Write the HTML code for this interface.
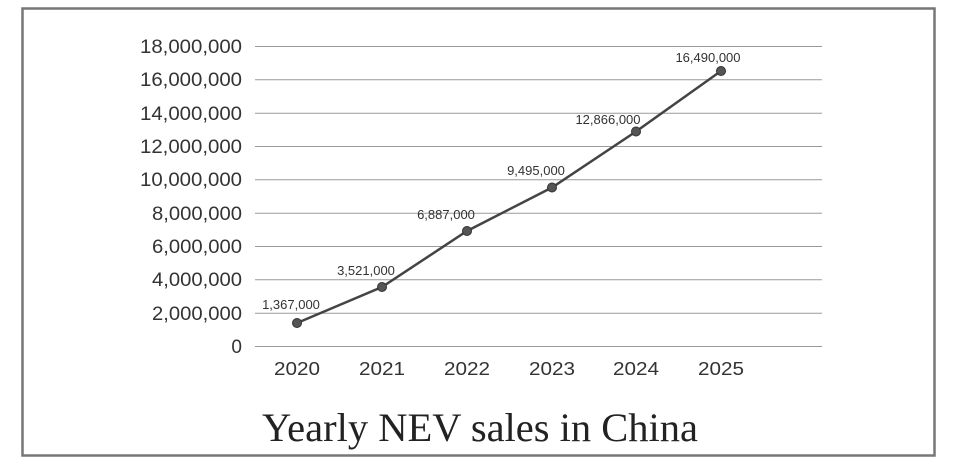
<!DOCTYPE html>
<html><head><style>
body{margin:0;background:#fff;}
svg{display:block;}
</style></head><body>
<svg width="961" height="464" xmlns="http://www.w3.org/2000/svg">
<rect x="0" y="0" width="961" height="464" fill="#fff"/>
<rect x="22.5" y="8.5" width="912" height="447" fill="none" stroke="#777" stroke-width="2.5"/>
<g stroke="#9a9a9a" stroke-width="1">
<line x1="255" x2="822" y1="46.5" y2="46.5"/>
<line x1="255" x2="822" y1="79.8" y2="79.8"/>
<line x1="255" x2="822" y1="113.2" y2="113.2"/>
<line x1="255" x2="822" y1="146.5" y2="146.5"/>
<line x1="255" x2="822" y1="179.8" y2="179.8"/>
<line x1="255" x2="822" y1="213.2" y2="213.2"/>
<line x1="255" x2="822" y1="246.5" y2="246.5"/>
<line x1="255" x2="822" y1="279.8" y2="279.8"/>
<line x1="255" x2="822" y1="313.2" y2="313.2"/>
<line x1="255" x2="822" y1="346.5" y2="346.5"/>
</g>
<g font-family="Liberation Sans, sans-serif" font-size="19" fill="#333" text-anchor="end">
<text x="242" y="53" textLength="102" lengthAdjust="spacingAndGlyphs">18,000,000</text>
<text x="242" y="86" textLength="102" lengthAdjust="spacingAndGlyphs">16,000,000</text>
<text x="242" y="120" textLength="102" lengthAdjust="spacingAndGlyphs">14,000,000</text>
<text x="242" y="153" textLength="102" lengthAdjust="spacingAndGlyphs">12,000,000</text>
<text x="242" y="186" textLength="102" lengthAdjust="spacingAndGlyphs">10,000,000</text>
<text x="242" y="220" textLength="90" lengthAdjust="spacingAndGlyphs">8,000,000</text>
<text x="242" y="253" textLength="90" lengthAdjust="spacingAndGlyphs">6,000,000</text>
<text x="242" y="286" textLength="90" lengthAdjust="spacingAndGlyphs">4,000,000</text>
<text x="242" y="320" textLength="90" lengthAdjust="spacingAndGlyphs">2,000,000</text>
<text x="242" y="353">0</text>
</g>
<g font-family="Liberation Sans, sans-serif" font-size="18" fill="#333" text-anchor="middle">
<text x="297" y="375" textLength="46" lengthAdjust="spacingAndGlyphs">2020</text>
<text x="382" y="375" textLength="46" lengthAdjust="spacingAndGlyphs">2021</text>
<text x="467" y="375" textLength="46" lengthAdjust="spacingAndGlyphs">2022</text>
<text x="552" y="375" textLength="46" lengthAdjust="spacingAndGlyphs">2023</text>
<text x="636" y="375" textLength="46" lengthAdjust="spacingAndGlyphs">2024</text>
<text x="721" y="375" textLength="46" lengthAdjust="spacingAndGlyphs">2025</text>
</g>
<polyline points="297,323 382,287 467,231 552,187.5 636,131.5 721,71" fill="none" stroke="#444" stroke-width="2.5"/>
<g fill="#555" stroke="#333" stroke-width="1">
<circle cx="297" cy="323" r="4.5"/><circle cx="382" cy="287" r="4.5"/><circle cx="467" cy="231" r="4.5"/>
<circle cx="552" cy="187.5" r="4.5"/><circle cx="636" cy="131.5" r="4.5"/><circle cx="721" cy="71" r="4.5"/>
</g>
<g font-family="Liberation Sans, sans-serif" font-size="13" fill="#333" text-anchor="middle">
<text x="291" y="309">1,367,000</text>
<text x="366" y="275">3,521,000</text>
<text x="446" y="219">6,887,000</text>
<text x="536" y="175">9,495,000</text>
<text x="608" y="124">12,866,000</text>
<text x="708" y="62">16,490,000</text>
</g>
<text x="480" y="441" font-family="Liberation Serif, serif" font-size="40" fill="#222" text-anchor="middle" textLength="436" lengthAdjust="spacingAndGlyphs">Yearly NEV sales in China</text>
</svg>
</body></html>
